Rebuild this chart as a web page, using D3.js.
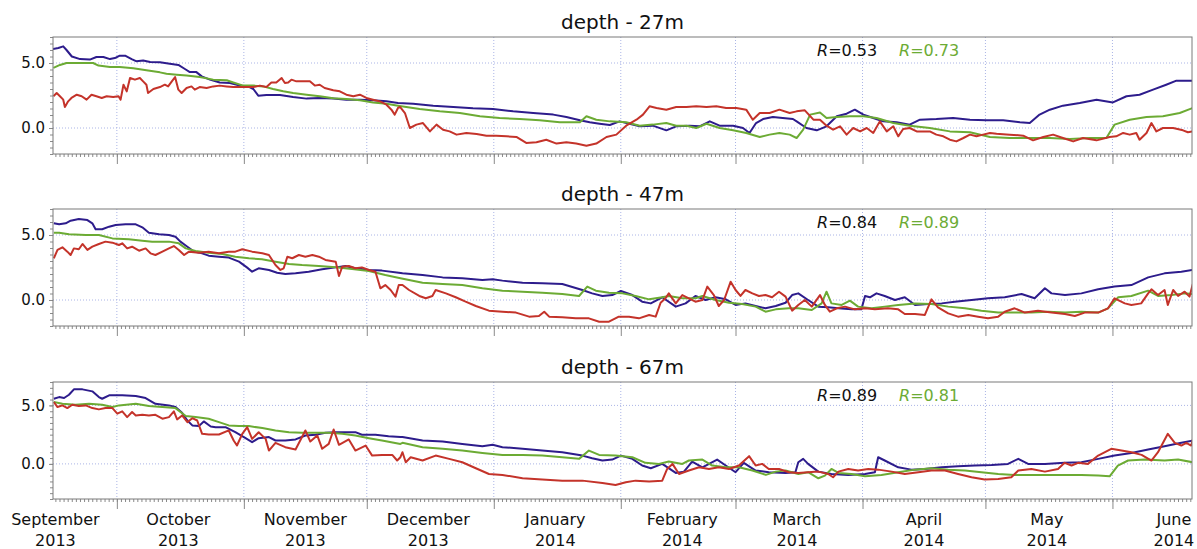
<!DOCTYPE html>
<html>
<head>
<meta charset="utf-8">
<script src="https://cdn.jsdelivr.net/npm/d3@7"></script>
<style>
  body { margin: 0; background: #fff; }
  text { font-family: "DejaVu Sans", Verdana, sans-serif; }
</style>
</head>
<body>
<svg id="chart" width="1197" height="549"></svg>
<script>
// ---- time base: each series is [day offset from START, value] ----
const START = new Date(2013, 8, 15, 10);
const SPAN_DAYS = 278;

const depths = ["27m", "47m", "67m"];
const yDomains = [[-2, 7], [-2, 7], [-3, 7]];
const yLabelTicks = [0, 5];
const rBlack = ["0.53", "0.84", "0.89"];
const rGreen = ["0.73", "0.89", "0.81"];
const monthLabels = [
  ["September", "2013"], ["October", "2013"], ["November", "2013"], ["December", "2013"],
  ["January", "2014"], ["February", "2014"], ["March", "2014"], ["April", "2014"],
  ["May", "2014"], ["June", "2014"]
];

// ---- depth 27 m ----
const simA27 = [[0,6.08],[1.3,6.15],[2.5,6.28],[3.3,6.0],[4.6,5.5],[6.6,5.3],[9.0,5.26],[10.6,5.46],[12.3,5.46],[13.9,5.3],[15.1,5.38],[16.3,5.56],[17.6,5.56],[19.2,5.3],[20.4,5.13],[22.0,5.2],[23.7,5.08],[26.1,5.05],[28.5,4.95],[30.6,4.85],[32.2,4.54],[33.4,4.3],[35.0,4.3],[36.3,3.97],[38.3,3.72],[40.7,3.5],[43.2,3.46],[45.6,3.26],[47.6,3.2],[48.9,3.0],[50.1,2.49],[52.1,2.54],[55.4,2.54],[58.6,2.38],[61.9,2.26],[65.1,2.3],[68.4,2.26],[71.6,2.18],[74.9,2.18],[78.1,2.13],[81.4,2.05],[84.2,1.92],[87.9,1.87],[92.8,1.72],[97.7,1.62],[102.5,1.51],[107.4,1.46],[112.3,1.28],[117.2,1.15],[122.1,1.03],[125.3,0.85],[128.6,0.59],[131.0,0.44],[133.4,0.33],[135.9,0.23],[138.3,0.51],[140.7,0.33],[143.2,0.13],[146.4,0.18],[149.7,-0.18],[152.1,0.13],[155.4,0.18],[157.8,0.13],[160.3,0.51],[162.7,0.18],[166.0,0.18],[168.4,0.0],[170.0,-0.38],[171.6,0.38],[173.3,0.69],[175.7,0.85],[178.1,0.77],[180.6,0.69],[181.5,0.51],[183.9,0.0],[186.4,-0.18],[188.8,0.13],[191.3,0.9],[193.7,1.1],[195.7,1.41],[197.8,1.03],[200.2,0.77],[202.6,0.51],[205.9,0.44],[209.1,0.26],[211.6,0.64],[215.6,0.69],[219.7,0.77],[223.8,0.64],[227.8,0.59],[231.9,0.59],[236.0,0.44],[238.4,0.38],[240.8,1.03],[243.3,1.41],[246.5,1.72],[250.6,1.92],[254.7,2.18],[258.7,1.97],[262.0,2.44],[265.2,2.56],[268.5,2.95],[271.7,3.33],[274.2,3.64],[278.2,3.64]];
const simB27 = [[0.1,4.62],[1.7,4.85],[3.3,5.0],[6.6,5.0],[9.8,5.0],[11.1,4.8],[13.9,4.69],[16.3,4.69],[19.6,4.59],[22.8,4.44],[26.1,4.28],[27.7,4.18],[30.2,4.1],[32.6,4.03],[35.8,3.92],[39.1,3.72],[42.4,3.67],[44.0,3.5],[46.4,3.26],[48.9,3.26],[51.3,3.2],[53.7,3.0],[56.2,2.82],[58.6,2.69],[61.9,2.56],[65.1,2.44],[68.4,2.28],[71.6,2.23],[74.9,2.13],[78.1,1.97],[81.4,1.87],[84.2,1.72],[89.5,1.46],[94.4,1.28],[99.3,1.15],[104.2,0.9],[109.0,0.77],[113.9,0.69],[118.8,0.59],[123.7,0.44],[128.6,0.44],[130.2,0.9],[132.6,0.64],[135.9,0.51],[139.9,0.44],[143.2,0.18],[146.4,0.26],[149.7,0.38],[152.1,0.18],[154.6,0.18],[157.0,0.0],[159.5,0.33],[162.7,0.0],[166.0,-0.18],[169.2,-0.38],[172.5,-0.69],[174.9,-0.51],[177.3,-0.38],[179.8,-0.51],[181.5,-0.77],[183.1,-0.13],[184.8,1.03],[187.2,1.2],[188.8,0.77],[191.3,0.85],[194.5,0.9],[197.8,0.9],[201.0,0.77],[205.1,0.38],[209.1,0.18],[214.0,0.0],[218.9,-0.26],[223.8,-0.33],[228.7,-0.69],[233.5,-0.77],[238.4,-0.77],[243.3,-0.77],[248.2,-0.85],[253.1,-0.77],[257.1,-0.77],[259.1,0.26],[262.8,0.64],[266.9,0.85],[270.9,0.9],[275.0,1.15],[278.2,1.54]];
const obs27 = [[0.1,2.44],[0.9,2.69],[1.7,2.44],[2.5,2.18],[2.9,1.62],[3.7,2.05],[4.5,2.31],[5.8,2.56],[7.0,2.44],[8.2,2.18],[9.4,2.56],[10.6,2.44],[11.9,2.31],[13.1,2.44],[14.7,2.38],[16.0,2.44],[16.5,2.18],[17.2,3.33],[18.0,2.82],[18.8,3.85],[20.0,3.72],[21.2,3.85],[22.0,3.59],[22.8,3.33],[23.2,2.69],[24.5,3.0],[26.1,3.15],[27.3,3.33],[28.1,3.2],[29.0,3.59],[29.8,3.92],[30.6,2.95],[31.4,2.69],[32.6,3.08],[33.8,3.2],[34.6,2.95],[35.8,3.15],[37.5,3.08],[39.1,3.2],[40.7,3.26],[42.4,3.2],[44.0,3.15],[45.6,3.15],[47.2,3.15],[48.9,3.15],[50.5,3.26],[52.1,3.15],[53.3,3.5],[54.5,3.5],[55.8,3.85],[56.6,3.46],[57.4,3.5],[58.2,3.72],[59.4,3.59],[61.1,3.59],[62.7,3.59],[63.9,3.26],[65.1,3.33],[66.3,3.08],[68.4,2.9],[70.0,2.82],[71.6,2.56],[73.3,2.44],[74.9,2.56],[76.5,2.31],[78.1,2.18],[79.8,2.05],[81.4,1.79],[82.6,1.41],[83.4,1.03],[84.2,1.54],[84.7,1.62],[85.9,1.15],[87.1,0.0],[88.7,0.26],[90.3,0.38],[92.0,-0.26],[93.6,0.26],[95.2,-0.13],[96.8,-0.26],[98.5,-0.51],[100.9,-0.38],[103.4,-0.46],[105.8,-0.59],[108.2,-0.59],[110.7,-0.64],[113.1,-0.69],[115.5,-1.15],[118.0,-1.1],[120.4,-0.9],[122.9,-1.2],[125.3,-1.1],[127.7,-1.2],[130.2,-1.36],[132.6,-1.2],[135.1,-0.69],[137.5,-0.51],[139.9,0.18],[142.4,0.64],[144.0,1.03],[145.6,1.67],[147.3,1.54],[149.7,1.41],[152.1,1.62],[154.6,1.62],[157.0,1.67],[159.5,1.62],[161.9,1.67],[164.3,1.54],[166.8,1.54],[169.2,1.41],[170.8,0.64],[172.5,1.15],[174.9,1.15],[177.3,1.41],[179.8,1.15],[181.5,1.28],[183.5,1.36],[185.6,0.64],[187.2,0.64],[188.8,0.18],[190.4,-0.13],[192.1,0.13],[193.7,-0.51],[195.3,0.0],[197.0,-0.26],[198.6,0.0],[200.2,-0.38],[201.8,0.51],[203.5,-0.26],[205.1,0.13],[206.3,-0.64],[207.5,-0.08],[209.1,0.0],[210.8,-0.26],[212.4,-0.26],[214.0,-0.26],[215.6,-0.51],[217.3,-0.64],[218.9,-0.9],[220.5,-1.03],[222.2,-0.77],[223.8,-0.51],[225.4,-0.64],[227.0,-0.51],[228.7,-0.38],[230.3,-0.44],[233.5,-0.51],[236.8,-0.59],[239.2,-0.95],[241.7,-0.69],[244.1,-0.51],[246.5,-0.77],[249.0,-1.03],[251.4,-0.77],[254.7,-0.95],[257.9,-0.69],[259.5,-0.64],[261.2,-0.38],[262.8,-0.51],[264.4,-0.38],[265.2,-0.9],[266.9,-0.38],[268.1,0.38],[269.3,-0.26],[270.9,0.0],[273.4,0.0],[275.8,-0.18],[277.0,-0.33],[278.2,-0.26]];

// ---- depth 47 m ----
const simA47 = [[0.2,5.9],[1.5,5.82],[3.1,5.9],[4.3,6.1],[6.3,6.23],[8.4,6.15],[9.6,5.9],[10.4,5.44],[12.0,5.44],[13.7,5.64],[15.3,5.77],[17.7,5.82],[20.2,5.82],[21.8,5.59],[23.4,5.18],[25.9,5.05],[28.3,5.0],[29.9,4.87],[31.1,4.49],[32.8,4.1],[34.4,3.72],[36.4,3.59],[38.0,3.41],[40.5,3.33],[42.9,3.26],[45.4,2.95],[47.4,2.49],[48.6,2.18],[50.2,2.44],[52.7,2.31],[54.7,2.1],[56.7,2.0],[59.2,2.05],[62.4,2.18],[65.7,2.36],[69.0,2.51],[71.4,2.62],[73.8,2.44],[77.1,2.31],[80.3,2.26],[84.4,2.1],[85.3,2.05],[90.2,1.92],[95.1,1.74],[99.9,1.67],[104.8,1.54],[107.3,1.59],[109.7,1.49],[114.6,1.33],[119.4,1.28],[124.3,1.23],[129.2,0.77],[131.6,0.51],[134.1,0.31],[136.5,0.38],[138.6,0.69],[141.4,0.38],[143.8,-0.13],[145.9,-0.26],[148.7,0.21],[152.0,-0.51],[154.4,-0.26],[156.8,0.31],[159.3,0.0],[161.7,0.21],[164.2,0.05],[166.6,-0.38],[169.0,-0.26],[171.5,-0.46],[173.9,-0.64],[176.4,-0.46],[178.8,-0.21],[180.4,0.38],[181.9,0.51],[184.3,0.0],[186.8,-0.51],[189.2,-0.56],[191.7,-0.64],[194.9,-0.72],[197.3,-0.72],[198.2,0.31],[199.4,0.21],[201.0,0.51],[203.0,0.31],[205.5,0.0],[207.9,0.21],[210.4,-0.38],[213.6,-0.31],[216.9,-0.26],[220.1,-0.13],[224.2,0.0],[228.2,0.13],[232.3,0.21],[236.4,0.46],[239.6,0.13],[242.1,0.9],[243.7,0.51],[247.0,0.38],[251.0,0.51],[255.1,0.82],[259.1,1.03],[263.2,1.15],[267.3,1.74],[271.3,2.05],[275.4,2.18],[278.2,2.31]];
const simB47 = [[0.2,5.18],[1.5,5.18],[3.9,5.05],[8.0,5.0],[11.2,5.0],[14.5,4.74],[18.5,4.67],[21.8,4.56],[24.2,4.49],[28.3,4.49],[30.7,4.36],[32.4,3.97],[34.8,3.77],[38.0,3.64],[41.3,3.54],[44.5,3.33],[47.8,3.21],[51.0,3.13],[54.3,2.95],[57.6,2.77],[60.8,2.69],[64.9,2.62],[69.0,2.51],[73.0,2.38],[77.1,2.23],[81.1,1.92],[84.8,1.67],[90.2,1.33],[95.1,1.23],[99.9,1.15],[104.8,0.9],[109.7,0.72],[114.6,0.64],[119.4,0.56],[124.3,0.46],[128.4,0.31],[130.4,1.03],[132.5,0.72],[135.7,0.56],[139.0,0.51],[142.2,0.31],[145.5,0.05],[148.7,0.21],[150.3,0.31],[153.6,0.13],[156.8,0.13],[158.5,0.31],[161.7,0.0],[165.0,-0.21],[168.2,-0.31],[171.5,-0.51],[173.9,-0.9],[176.4,-0.72],[179.6,-0.64],[181.9,-0.64],[185.2,-0.77],[187.6,-0.26],[188.8,0.64],[190.0,-0.26],[192.5,-0.38],[194.5,-0.05],[196.5,-0.51],[199.8,-0.64],[203.0,-0.51],[206.3,-0.38],[210.4,-0.26],[214.4,-0.31],[218.5,-0.51],[222.6,-0.64],[226.6,-0.82],[230.7,-0.97],[234.7,-0.97],[238.8,-0.97],[242.9,-0.9],[247.0,-0.97],[251.0,-0.9],[255.1,-0.97],[257.5,-0.64],[260.0,0.21],[263.2,0.31],[267.3,0.72],[269.7,0.31],[273.0,0.38],[276.2,0.51],[278.2,0.46]];
const obs47 = [[0.2,3.21],[1.1,3.85],[2.3,4.05],[3.5,3.72],[4.3,3.46],[5.1,3.97],[6.3,3.9],[7.2,4.31],[8.4,3.85],[9.6,4.1],[11.2,4.31],[12.8,4.49],[14.5,4.41],[16.1,4.23],[16.9,4.36],[18.1,3.97],[19.3,4.1],[21.0,3.79],[22.6,3.97],[23.8,3.59],[25.0,3.46],[26.7,3.72],[28.3,3.97],[29.5,4.15],[30.7,3.85],[32.0,3.46],[33.2,3.72],[35.6,3.64],[38.0,3.72],[40.5,3.59],[42.9,3.72],[44.5,3.72],[46.2,3.9],[48.6,3.72],[51.1,3.59],[52.7,3.46],[54.3,2.69],[55.5,2.31],[56.3,2.44],[57.2,3.33],[58.4,3.21],[60.0,3.46],[61.6,3.33],[63.3,3.46],[64.9,3.33],[66.5,3.08],[69.0,2.95],[69.8,1.85],[70.6,2.56],[72.2,2.62],[73.8,2.44],[75.4,2.51],[77.1,2.31],[78.7,2.18],[79.9,0.9],[81.1,1.15],[82.4,0.77],[83.6,0.26],[84.4,1.15],[85.3,1.15],[86.9,0.77],[89.4,0.31],[91.0,0.13],[92.6,0.31],[93.4,0.77],[95.9,0.51],[98.3,0.21],[100.7,-0.13],[103.2,-0.46],[106.4,-0.82],[109.7,-0.9],[113.0,-0.97],[116.2,-1.28],[118.6,-1.23],[119.9,-0.9],[121.1,-1.28],[124.3,-1.33],[127.6,-1.41],[130.8,-1.41],[133.3,-1.67],[135.7,-1.67],[138.1,-1.28],[140.6,-1.28],[143.0,-1.41],[145.5,-1.15],[147.1,-1.28],[148.3,-0.21],[149.5,0.13],[150.3,0.51],[152.0,-0.26],[153.6,0.38],[155.2,0.13],[156.8,-0.13],[158.5,0.0],[159.7,1.03],[161.3,0.38],[162.5,-0.46],[163.8,0.0],[165.4,1.41],[166.6,0.77],[167.8,0.31],[169.0,0.77],[170.7,0.51],[172.3,0.31],[173.9,0.38],[175.5,0.21],[177.2,0.64],[178.8,0.26],[180.4,-0.82],[181.9,-0.38],[183.5,0.0],[185.2,-0.51],[187.2,0.38],[188.4,-0.38],[189.6,-0.9],[191.3,-0.64],[193.3,-0.51],[195.7,-0.72],[198.2,-0.64],[200.6,-0.72],[203.8,-0.64],[206.3,-0.72],[207.9,-1.08],[210.4,-1.08],[212.8,-1.15],[214.4,0.05],[216.0,-0.56],[218.5,-1.03],[220.9,-1.28],[223.4,-1.15],[225.8,-1.28],[228.2,-1.41],[230.7,-1.28],[232.3,-0.9],[234.7,-0.64],[237.2,-0.97],[240.4,-0.82],[243.7,-0.97],[247.0,-1.08],[249.4,-1.23],[251.8,-0.97],[255.1,-0.97],[257.5,-0.64],[259.1,0.13],[261.6,-0.26],[263.2,-0.38],[265.6,-0.26],[267.3,0.51],[268.1,0.82],[269.7,0.38],[271.3,0.77],[272.1,-0.38],[273.4,0.77],[274.6,0.31],[276.2,0.64],[277.4,0.26],[278.2,1.23]];

// ---- depth 67 m ----
const simA67 = [[0.2,5.57],[1.5,5.71],[2.7,5.63],[3.9,5.91],[5.1,6.37],[7.2,6.37],[9.6,6.2],[11.2,5.71],[12.0,5.57],[13.7,5.86],[16.9,5.86],[20.2,5.8],[22.6,5.63],[25.0,5.14],[28.3,5.0],[29.9,4.86],[31.5,4.37],[32.8,3.71],[34.0,3.29],[35.6,3.23],[36.8,3.63],[38.5,3.2],[39.7,3.14],[42.1,3.14],[44.5,2.71],[47.0,2.2],[48.6,1.86],[50.2,2.2],[52.7,2.29],[54.3,2.0],[56.7,2.0],[59.2,2.09],[61.6,2.43],[64.1,2.49],[66.5,2.66],[69.0,2.71],[71.4,2.71],[73.8,2.71],[75.4,2.49],[78.7,2.49],[81.9,2.37],[84.8,2.29],[85.3,2.29],[90.2,2.0],[95.1,1.91],[99.9,1.71],[104.8,1.51],[107.3,1.63],[109.7,1.43],[114.6,1.29],[119.4,1.14],[124.3,1.0],[129.2,0.71],[131.6,0.49],[134.1,0.29],[136.5,0.37],[138.6,0.71],[141.4,0.43],[143.8,-0.14],[145.9,-0.37],[148.7,0.0],[152.0,-0.77],[154.0,-0.66],[156.0,0.2],[158.5,-0.29],[162.1,0.37],[164.2,-0.14],[166.6,-0.71],[168.6,0.09],[171.5,-0.57],[174.7,-0.71],[178.8,-0.77],[181.2,-0.71],[181.9,0.14],[183.1,0.43],[184.3,0.0],[186.8,-0.66],[190.0,-0.86],[194.1,-0.94],[198.2,-0.86],[200.6,-0.71],[201.4,0.57],[203.0,0.29],[206.3,-0.29],[209.5,-0.49],[212.8,-0.43],[216.9,-0.29],[220.9,-0.2],[225.0,-0.14],[229.1,-0.09],[233.1,0.0],[235.6,0.43],[238.0,0.0],[242.1,0.0],[246.9,0.09],[251.0,0.14],[255.1,0.43],[259.1,0.71],[263.2,0.94],[267.3,1.23],[271.3,1.51],[275.4,1.8],[278.2,2.0]];
const simB67 = [[0.2,5.29],[2.3,5.14],[5.5,5.06],[8.8,5.14],[12.0,5.06],[14.5,4.86],[16.1,5.0],[20.2,5.14],[23.4,4.94],[26.7,4.86],[29.9,4.77],[32.4,4.09],[34.8,4.0],[38.0,3.86],[40.5,3.57],[42.9,3.29],[45.4,3.23],[47.8,3.23],[51.1,3.06],[54.3,2.86],[57.6,2.71],[60.8,2.66],[64.1,2.66],[67.3,2.66],[70.6,2.57],[73.8,2.43],[77.1,2.2],[80.3,2.0],[84.8,1.71],[85.3,1.8],[90.2,1.43],[95.1,1.29],[99.9,1.14],[104.8,0.94],[109.7,0.77],[114.6,0.77],[119.4,0.71],[124.3,0.57],[128.4,0.43],[130.8,1.14],[133.3,0.77],[137.3,0.71],[141.4,0.57],[144.6,0.09],[147.9,0.0],[150.3,0.2],[153.6,0.0],[155.2,0.29],[158.5,0.37],[160.9,-0.14],[164.2,-0.29],[167.4,-0.29],[170.7,-0.57],[174.0,-0.94],[176.4,-0.66],[178.8,-0.57],[181.9,-0.86],[184.3,-0.71],[186.8,-1.23],[188.4,-1.0],[190.0,-0.43],[191.7,-0.77],[194.9,-0.86],[198.2,-1.06],[202.2,-0.94],[206.3,-0.71],[210.4,-0.49],[214.4,-0.37],[218.5,-0.49],[222.6,-0.57],[226.6,-0.71],[230.7,-0.86],[234.7,-0.94],[238.8,-0.94],[242.9,-0.94],[246.9,-0.94],[251.0,-0.94],[255.1,-1.0],[257.9,-1.06],[259.9,-0.14],[262.4,0.29],[266.5,0.37],[271.3,0.29],[274.6,0.37],[278.2,0.14]];
const obs67 = [[0.2,5.29],[1.1,4.86],[2.3,5.0],[3.5,4.77],[4.7,5.06],[6.3,4.94],[8.0,5.0],[9.6,4.77],[11.2,4.66],[12.8,4.77],[14.5,4.77],[15.7,4.29],[16.9,4.49],[18.1,4.0],[19.3,4.43],[20.2,4.14],[21.8,4.2],[23.4,4.14],[25.0,4.2],[26.7,3.86],[28.3,4.0],[29.5,4.49],[30.3,3.8],[31.5,4.14],[32.8,3.57],[34.0,3.91],[35.2,3.71],[36.4,2.57],[38.0,2.51],[40.5,2.51],[42.9,2.86],[44.1,2.0],[44.9,1.57],[46.2,2.57],[47.4,3.14],[48.6,2.14],[50.2,2.71],[51.9,2.14],[52.7,1.14],[54.3,1.8],[56.7,1.43],[59.2,1.23],[61.6,2.86],[62.8,1.91],[64.5,2.43],[65.7,1.29],[67.3,1.71],[68.5,2.94],[69.8,1.63],[72.2,2.09],[73.8,1.14],[76.3,1.57],[77.9,0.71],[80.3,0.77],[82.8,0.77],[84.0,0.29],[84.8,0.57],[85.3,1.0],[86.1,0.14],[87.3,0.57],[90.2,0.29],[93.4,0.71],[96.7,0.43],[99.9,0.14],[103.2,-0.37],[106.4,-0.86],[109.7,-0.94],[114.6,-1.23],[119.4,-1.34],[124.3,-1.43],[129.2,-1.43],[134.1,-1.63],[137.3,-1.8],[139.8,-1.57],[142.2,-1.43],[145.5,-1.51],[148.7,-1.43],[149.9,-0.43],[151.2,0.0],[152.8,-0.86],[155.2,-0.57],[157.7,-0.29],[160.1,-0.43],[162.5,-0.29],[165.0,-0.43],[167.4,-0.14],[169.9,0.66],[171.5,-0.14],[173.1,0.0],[174.7,-0.43],[177.2,-0.43],[179.6,-0.71],[181.9,-0.77],[184.3,-0.71],[186.8,-0.66],[189.2,-0.86],[190.4,-1.14],[191.7,-0.66],[194.1,-0.43],[196.5,-0.57],[199.0,-0.43],[201.4,-0.49],[204.7,-0.66],[207.9,-0.86],[211.2,-0.71],[214.4,-0.57],[217.7,-0.57],[220.9,-0.86],[224.2,-1.14],[227.4,-1.34],[230.7,-1.29],[233.9,-1.14],[235.6,-0.57],[238.8,-0.43],[242.1,-0.66],[245.3,-0.43],[246.9,0.09],[248.6,-0.14],[250.2,0.09],[252.6,0.0],[255.1,0.71],[258.3,1.29],[260.8,1.14],[263.2,1.0],[265.7,0.77],[268.1,0.29],[269.7,1.0],[272.1,2.57],[273.8,1.8],[275.4,1.57],[276.6,1.8],[277.8,1.57],[278.6,2.57]];

const panels = [
  { depth: depths[0], yDomain: yDomains[0], simA: simA27, simB: simB27, obs: obs27, rA: rBlack[0], rB: rGreen[0] },
  { depth: depths[1], yDomain: yDomains[1], simA: simA47, simB: simB47, obs: obs47, rA: rBlack[1], rB: rGreen[1] },
  { depth: depths[2], yDomain: yDomains[2], simA: simA67, simB: simB67, obs: obs67, rA: rBlack[2], rB: rGreen[2] }
];

// ---- layout & styling ----
const W = 1197;
const margin = { left: 53, right: 5 };
const panelTops = [37, 209, 382];
const panelH = 117;
const colors = { simA: "#2d1c8c", obs: "#c4332a", simB: "#6cab34", grid: "#aab4e6", frame: "#7a7a7a" };

const dayToDate = d => new Date(START.getTime() + d * 864e5);
const END = dayToDate(SPAN_DAYS);

const x = d3.scaleTime()
  .domain([START, END])
  .range([margin.left, W - margin.right]);

const svg = d3.select("#chart");

panels.forEach((p, i) => {
  const top = panelTops[i];
  const bottom = top + panelH;
  const y = d3.scaleLinear().domain(p.yDomain).range([bottom, top]);
  const g = svg.append("g");

  // title
  g.append("text")
    .attr("x", (x.range()[0] + x.range()[1]) / 2)
    .attr("y", top - 8)
    .attr("text-anchor", "middle")
    .attr("font-size", 20)
    .attr("fill", "#111")
    .text("depth - " + p.depth);

  // dotted grid: month boundaries and labelled y values
  const months = d3.timeMonth.range(START, END);
  g.append("g").selectAll("line").data(months).join("line")
    .attr("x1", d => x(d)).attr("x2", d => x(d))
    .attr("y1", top).attr("y2", bottom)
    .attr("stroke", colors.grid).attr("stroke-width", 1)
    .attr("stroke-dasharray", "1,2");
  g.append("g").selectAll("line").data(yLabelTicks).join("line")
    .attr("x1", x.range()[0]).attr("x2", x.range()[1])
    .attr("y1", d => y(d)).attr("y2", d => y(d))
    .attr("stroke", colors.grid).attr("stroke-width", 1)
    .attr("stroke-dasharray", "1,2");

  // daily minor ticks and monthly major ticks along the bottom
  const axDay = g.append("g").attr("transform", `translate(0,${bottom})`)
    .call(d3.axisBottom(x).ticks(d3.timeDay).tickSize(3).tickFormat(""));
  const axMonth = g.append("g").attr("transform", `translate(0,${bottom})`)
    .call(d3.axisBottom(x).ticks(d3.timeMonth).tickSize(10).tickFormat(""));

  // y ticks every 0.5, labels at 0 and 5
  const yMinor = d3.range(p.yDomain[0], p.yDomain[1] + 0.001, 0.5);
  const axY = g.append("g").attr("transform", `translate(${margin.left},0)`)
    .call(d3.axisLeft(y).tickValues(yMinor).tickSize(3).tickFormat(""));
  const axYLab = g.append("g").attr("transform", `translate(${margin.left},0)`)
    .call(d3.axisLeft(y).tickValues(yLabelTicks).tickSize(4).tickPadding(4).tickFormat(d3.format(".1f")));
  axYLab.selectAll("text").attr("font-size", 15).attr("fill", "#111")
    .style("font-family", '"DejaVu Sans", Verdana, sans-serif');

  [axDay, axMonth, axY, axYLab].forEach(a => {
    a.select(".domain").remove();
    a.selectAll("line").attr("stroke", "#8a8a8a");
  });

  // series, clipped to the plotting area
  const clipId = "clip" + i;
  g.append("clipPath").attr("id", clipId).append("rect")
    .attr("x", x.range()[0]).attr("y", top)
    .attr("width", x.range()[1] - x.range()[0]).attr("height", panelH);

  const line = d3.line()
    .x(d => x(dayToDate(d[0])))
    .y(d => y(d[1]));

  const lines = g.append("g").attr("clip-path", `url(#${clipId})`);
  [["simA", p.simA], ["simB", p.simB], ["obs", p.obs]].forEach(([k, data]) => {
    lines.append("path")
      .datum(data)
      .attr("d", line)
      .attr("fill", "none")
      .attr("stroke", colors[k])
      .attr("stroke-width", 2)
      .attr("stroke-linejoin", "round");
  });

  // frame
  g.append("rect")
    .attr("x", x.range()[0]).attr("y", top)
    .attr("width", x.range()[1] - x.range()[0]).attr("height", panelH)
    .attr("fill", "none").attr("stroke", colors.frame).attr("stroke-width", 1);

  // correlation labels
  const rText = g.append("text").attr("x", 817).attr("y", top + 19).attr("font-size", 16);
  rText.append("tspan").attr("fill", "#111").attr("font-style", "italic").text("R");
  rText.append("tspan").attr("fill", "#111").text("=" + p.rA);
  const rText2 = g.append("text").attr("x", 899).attr("y", top + 19).attr("font-size", 16);
  rText2.append("tspan").attr("fill", colors.simB).attr("font-style", "italic").text("R");
  rText2.append("tspan").attr("fill", colors.simB).text("=" + p.rB);
});

// month / year labels under the bottom panel
const lastBottom = panelTops[2] + panelH;
const labelDates = d3.timeMonth.range(d3.timeMonth.floor(START), END).map(m => new Date(m.getFullYear(), m.getMonth(), 16));
const lab = svg.append("g").selectAll("text").data(labelDates).join("text")
  .attr("x", d => x(d))
  .attr("text-anchor", "middle")
  .attr("font-size", 16)
  .attr("fill", "#111");
lab.append("tspan").attr("x", d => x(d)).attr("y", lastBottom + 26).text((d, i) => monthLabels[i][0]);
lab.append("tspan").attr("x", d => x(d)).attr("y", lastBottom + 47).text((d, i) => monthLabels[i][1]);
</script>
</body>
</html>
